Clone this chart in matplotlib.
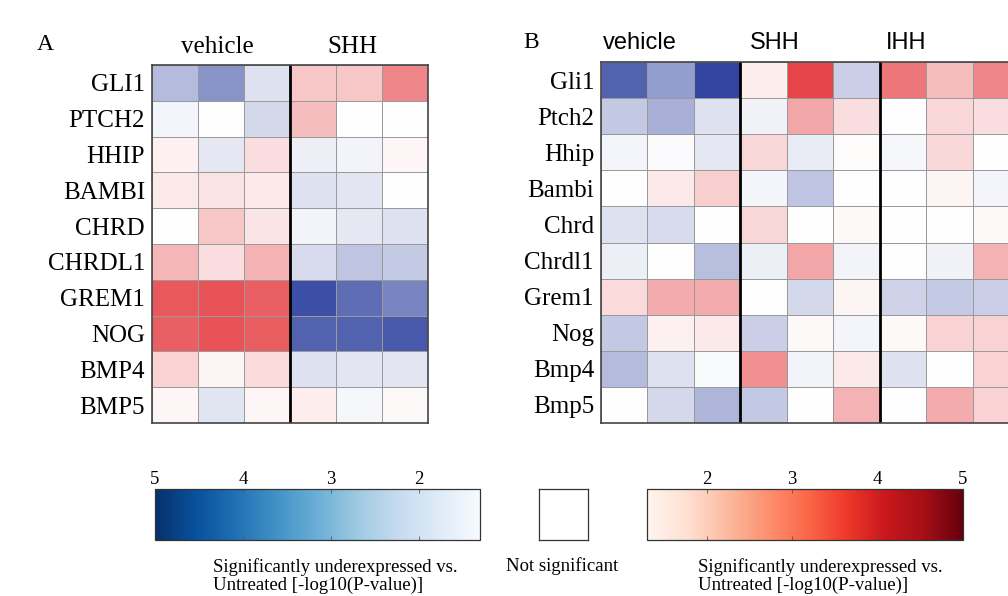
import numpy as np
import matplotlib.pyplot as plt
from matplotlib.colors import LinearSegmentedColormap, Normalize
import matplotlib.cm as cm

# Data (signed intensity: negative = underexpressed, positive = overexpressed)
genes_a = ["GLI1", "PTCH2", "HHIP", "BAMBI", "CHRD", "CHRDL1", "GREM1", "NOG", "BMP4", "BMP5"]
groups_a = ["vehicle", "SHH"]
vals_a = np.array([
    [-0.35, -0.55, -0.15, 0.25, 0.25, 0.55],
    [-0.05, 0.00, -0.20, 0.30, 0.00, 0.00],
    [0.07, -0.12, 0.15, -0.08, -0.06, 0.04],
    [0.10, 0.13, 0.10, -0.15, -0.13, 0.00],
    [0.00, 0.25, 0.12, -0.06, -0.12, -0.15],
    [0.33, 0.15, 0.35, -0.18, -0.30, -0.27],
    [0.75, 0.78, 0.72, -0.90, -0.75, -0.62],
    [0.72, 0.78, 0.74, -0.80, -0.80, -0.85],
    [0.20, 0.05, 0.17, -0.15, -0.13, -0.13],
    [0.04, -0.14, 0.04, 0.08, -0.04, 0.03],
])

genes_b = ["Gli1", "Ptch2", "Hhip", "Bambi", "Chrd", "Chrdl1", "Grem1", "Nog", "Bmp4", "Bmp5"]
groups_b = ["vehicle", "SHH", "IHH"]
vals_b = np.array([
    [-0.80, -0.50, -0.95, 0.08, 0.85, -0.25, 0.62, 0.30, 0.55],
    [-0.28, -0.40, -0.15, -0.07, 0.40, 0.15, 0.00, 0.18, 0.15],
    [-0.05, -0.02, -0.12, 0.18, -0.10, 0.02, -0.04, 0.18, 0.00],
    [0.00, 0.10, 0.22, -0.05, -0.30, 0.00, 0.00, 0.05, -0.05],
    [-0.15, -0.18, 0.00, 0.18, 0.00, 0.03, 0.00, 0.00, 0.03],
    [-0.08, 0.00, -0.33, -0.08, 0.40, -0.06, 0.00, -0.07, 0.35],
    [0.17, 0.38, 0.38, 0.00, -0.20, 0.05, -0.22, -0.27, -0.25],
    [-0.28, 0.07, 0.10, -0.25, 0.03, -0.05, 0.03, 0.20, 0.20],
    [-0.35, -0.15, -0.03, 0.50, -0.06, 0.10, -0.15, 0.00, 0.20],
    [0.00, -0.20, -0.38, -0.28, 0.00, 0.35, 0.00, 0.38, 0.20],
])

cbar_ticks_blue = [5, 4, 3, 2]
cbar_ticks_red = [2, 3, 4, 5]
p_min, p_max = 1.3, 5

W, H = 1008, 596
serif = ["Liberation Serif", "DejaVu Serif"]
narrow = ["Liberation Sans Narrow", "Liberation Sans", "DejaVu Sans"]

heat_cmap = LinearSegmentedColormap.from_list("bwr_soft", ["#283c9c", "#ffffff", "#e12328"])


def ax_px(fig, x0, y0, x1, y1):
    # pixel box (top-left origin) -> axes
    return fig.add_axes([x0 / W, 1 - y1 / H, (x1 - x0) / W, (y1 - y0) / H])


def heatmap(ax, vals, genes, ngroups):
    nr, nc = vals.shape
    ax.pcolormesh(np.arange(nc + 1), np.arange(nr + 1), vals, cmap=heat_cmap,
                  vmin=-1, vmax=1, edgecolors="#9a9a9a", linewidth=0.6)
    ax.set_xlim(0, nc)
    ax.set_ylim(nr, 0)
    for g in range(1, ngroups):
        ax.axvline(g * 3, color="black", lw=2)
    ax.set_xticks([])
    ax.set_yticks(np.arange(nr) + 0.5)
    ax.set_yticklabels(genes, family=serif, fontsize=18)
    ax.tick_params(axis="y", length=0, pad=5)
    for s in ax.spines.values():
        s.set_color("#444444")
        s.set_linewidth(1.2)


fig = plt.figure(figsize=(W / 100, H / 100), dpi=100)

# Panel A
ax_a = ax_px(fig, 152, 65, 428, 423)
heatmap(ax_a, vals_a, genes_a, len(groups_a))
fig.text(45 / W, 1 - 45 / H, "A", family=serif, fontsize=17, ha="center", va="center")
for name, xc in zip(groups_a, [217, 352]):
    fig.text(xc / W, 1 - 47 / H, name, family=serif, fontsize=18, ha="center", va="center")

# Panel B (right edge cropped)
ax_b = ax_px(fig, 601, 62, 1019, 423)
heatmap(ax_b, vals_b, genes_b, len(groups_b))
fig.text(531 / W, 1 - 43 / H, "B", family=serif, fontsize=17, ha="center", va="center")
for name, xc in zip(groups_b, [640, 775, 906]):
    fig.text(xc / W, 1 - 43 / H, name, family=narrow, fontsize=17, ha="center", va="center")

# Colorbars
norm = Normalize(vmin=p_min, vmax=p_max)
cax_b = ax_px(fig, 155, 489, 480, 540)
cb1 = fig.colorbar(cm.ScalarMappable(norm=norm, cmap="Blues"), cax=cax_b, orientation="horizontal")
cax_b.invert_xaxis()
cb1.set_ticks(cbar_ticks_blue)

cax_r = ax_px(fig, 647, 489, 963, 540)
cb2 = fig.colorbar(cm.ScalarMappable(norm=norm, cmap="Reds"), cax=cax_r, orientation="horizontal")
cb2.set_ticks(cbar_ticks_red)

for cb in (cb1, cb2):
    cax = cb.ax
    cax.xaxis.set_ticks_position("both")
    cax.tick_params(axis="x", direction="in", length=3, width=0.6, color="#555555",
                    labeltop=True, labelbottom=False, labelsize=13.5, pad=1)
    for lbl in cax.get_xticklabels():
        lbl.set_family(serif)
    cb.outline.set_edgecolor("#333333")
    cb.outline.set_linewidth(0.9)

# Not significant box
nax = ax_px(fig, 539, 489, 588, 540)
nax.set_xticks([])
nax.set_yticks([])
for s in nax.spines.values():
    s.set_color("#333333")
    s.set_linewidth(0.9)

caption = "Significantly underexpressed vs.\nUntreated [-log10(P-value)]"
fig.text(213 / W, 1 - 576 / H, caption, family=serif, fontsize=13.5, ha="left", va="center",
         linespacing=1.1)
fig.text(698 / W, 1 - 576 / H, caption, family=serif, fontsize=13.5, ha="left", va="center",
         linespacing=1.1)
fig.text(562 / W, 1 - 566 / H, "Not significant", family=serif, fontsize=13.5, ha="center",
         va="center")

fig.savefig("out.png", dpi=100)
